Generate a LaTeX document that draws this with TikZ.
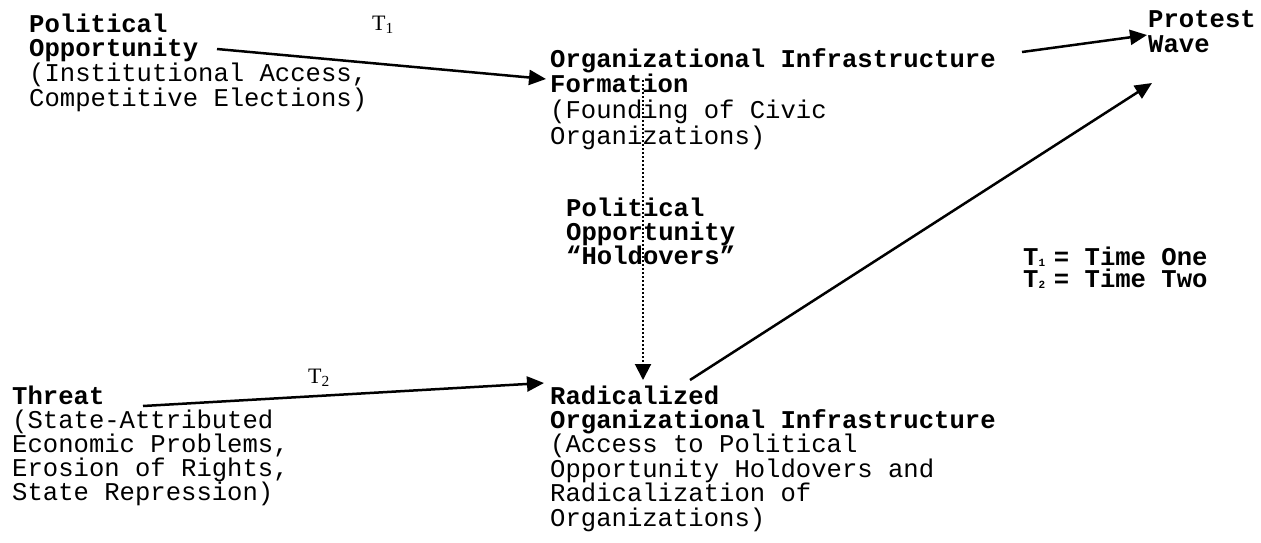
\documentclass[tikz,border=0pt]{standalone}
\usepackage{fontspec}
\setmonofont{Liberation Mono}
\newfontfamily\timesfont{Liberation Serif}
\usetikzlibrary{calc,arrows.meta}
\newcommand\tsub[1]{\rlap{\raisebox{-1.5pt}{\fontsize{11}{11}\selectfont #1}}}

\begin{document}
\begin{tikzpicture}[x=1pt, y=-1pt,
    every node/.style={inner sep=0pt, anchor=base west, align=left, font=\fontsize{25.6}{23.6}\selectfont\ttfamily},
    arrow/.style={line width=2.5pt, -{Triangle[length=17pt, width=15pt]}},
    dotarrow/.style={line width=2pt, dash pattern=on 2pt off 2pt, -{Triangle[length=16pt, width=16pt]}},
    tlabel/.style={font=\fontsize{22}{22}\selectfont\timesfont}]
  \useasboundingbox (0,0) rectangle (1261,542);
  \node (1) at (29,106) {\textbf{Political}\\\textbf{Opportunity}\\(Institutional Access,\\Competitive Elections)};
  \node[font=\fontsize{25.6}{25.6}\selectfont\ttfamily] (2) at (550,144) {\textbf{Organizational Infrastructure}\\\textbf{Formation}\\(Founding of Civic\\Organizations)};
  \node[font=\fontsize{25.6}{25}\selectfont\ttfamily] (3) at (1148,52) {\textbf{Protest}\\\textbf{Wave}};
  \node[font=\fontsize{25.6}{24}\selectfont\ttfamily] (4) at (566,264) {\textbf{Political}\\\textbf{Opportunity}\\\textbf{“Holdovers”}};
  \node[font=\fontsize{25.6}{24}\selectfont\ttfamily] (5) at (12,500) {\textbf{Threat}\\(State-Attributed\\Economic Problems,\\Erosion of Rights,\\State Repression)};
  \node[font=\fontsize{25.6}{24.4}\selectfont\ttfamily] (6) at (550,526) {\textbf{Radicalized}\\\textbf{Organizational Infrastructure}\\(Access to Political\\Opportunity Holdovers and\\Radicalization of\\Organizations)};
  \node[font=\fontsize{25.6}{22}\selectfont\ttfamily\bfseries] (7) at (1023,287) {T\tsub{1} = Time One\\T\tsub{2} = Time Two};
  \node[tlabel] (t1) at (372,30) {T\textsubscript{1}};
  \node[tlabel] (t2) at (308,383) {T\textsubscript{2}};
  % arrow ends
  \coordinate (1o) at ($(1.base west)+(188,-57)$);
  \coordinate (2i) at ($(2.base west)+(-4,-65)$);
  \coordinate (2o) at ($(2.base west)+(472,-92)$);
  \coordinate (2d) at ($(2.base west)+(93,-64)$);
  \coordinate (3i) at ($(3.base west)+(-1,-17)$);
  \coordinate (3j) at ($(3.base west)+(4,31)$);
  \coordinate (5o) at ($(5.base west)+(131,-94)$);
  \coordinate (6i) at ($(6.base west)+(-6,-143)$);
  \coordinate (6o) at ($(6.base west)+(140,-146)$);
  \coordinate (6d) at ($(6.base west)+(93,-146)$);
  \foreach \source/\dest in {1o/2i, 2o/3i, 5o/6i, 6o/3j}
    \path (\source) edge[arrow] (\dest);
  \path (2d) edge[dotarrow] (6d);
\end{tikzpicture}
\end{document}
